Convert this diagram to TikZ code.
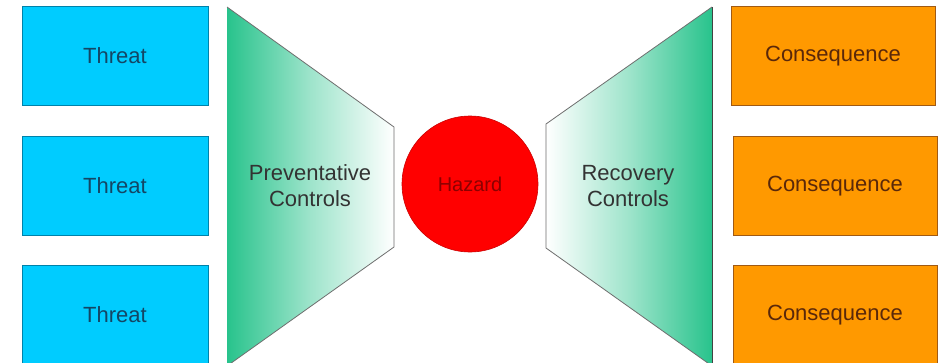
\documentclass[tikz,border=0pt]{standalone}
\usepackage{fontspec}
\setmainfont{Liberation Sans}
\definecolor{threatfill}{RGB}{0,204,255}
\definecolor{threatline}{RGB}{0,130,170}
\definecolor{threattext}{RGB}{20,70,100}
\definecolor{consfill}{RGB}{255,153,0}
\definecolor{consline}{RGB}{160,90,20}
\definecolor{constext}{RGB}{90,40,10}
\definecolor{ctrlgreen}{RGB}{40,195,140}
\definecolor{ctrlline}{RGB}{110,110,110}
\definecolor{hazfill}{RGB}{255,0,0}
\definecolor{haztext}{RGB}{140,0,0}
\tikzset{
  threatbox/.style={draw=threatline, line width=1pt, fill=threatfill, minimum width=186pt, minimum height=99pt, inner sep=0pt, text=threattext, font=\fontsize{22}{26}\selectfont},
  consbox/.style={draw=consline, line width=1pt, fill=consfill, minimum width=204pt, minimum height=99pt, inner sep=0pt, text=constext, font=\fontsize{22}{26}\selectfont},
  ctrltext/.style={align=center, text=black!80, font=\fontsize{22}{26}\selectfont},
  ctrlshape/.style={draw=ctrlline, line width=0.8pt},
}
\begin{document}
\begin{tikzpicture}[x=1pt,y=-1pt]
\useasboundingbox (0,0) rectangle (938,362);
\clip (0,0) rectangle (938,362);
\fill[white] (0,0) rectangle (938,362);
% threats
\node[threatbox] (t1) at (115,56) {Threat};
\node[threatbox] (t2) at (115,186) {Threat};
\node[threatbox] (t3) at (115,315) {Threat};
% consequences
\node[consbox] (c1) at (833,56) {Consequence};
\node[consbox] (c2) at (835,186) {Consequence};
\node[consbox] (c3) at (835,315) {Consequence};
% preventative controls
\coordinate (p1) at (227,7);
\coordinate (p2) at (394,127);
\coordinate (p3) at (394,247);
\coordinate (p4) at (227,366);
\shade[left color=ctrlgreen, right color=white, middle color=ctrlgreen!45] (p1) -- (p2) -- (p3) -- (p4) -- cycle;
\draw[ctrlshape] (p1) -- (p2) -- (p3) -- (p4);
\node[ctrltext] (pc) at (310,186) {Preventative\\Controls};
% recovery controls
\coordinate (r1) at (712,7);
\coordinate (r2) at (546,124);
\coordinate (r3) at (546,248);
\coordinate (r4) at (712,366);
\shade[right color=ctrlgreen, left color=white, middle color=ctrlgreen!45] (r1) -- (r2) -- (r3) -- (r4) -- cycle;
\draw[ctrlshape] (r1) -- (r2) -- (r3) -- (r4);
\draw[ctrlline!60!black, line width=1pt] (r1) -- (r4);
\node[ctrltext] (rc) at (628,186) {Recovery\\Controls};
% hazard
\node[circle, fill=hazfill, draw=hazfill!80!black, line width=0.6pt, minimum size=136pt, inner sep=0pt, text=haztext, font=\fontsize{20}{24}\selectfont] (hz) at (470,184) {Hazard};
\end{tikzpicture}
\end{document}
